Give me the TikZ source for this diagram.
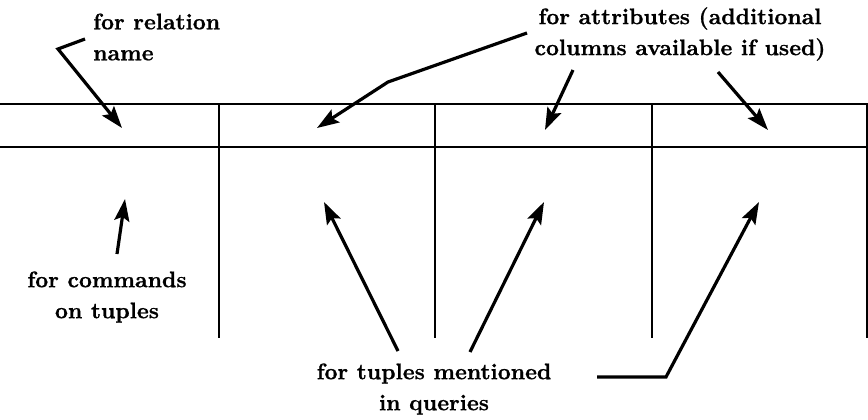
\documentclass[tikz,border=0pt]{standalone}
\usepackage{fontspec}
\newfontfamily\lbf{lmroman10-bold.otf}[FakeBold=0.8]
\usetikzlibrary{arrows.meta}
\begin{document}
\begin{tikzpicture}[x=1pt,y=-1pt,
  tbl/.style={line width=2.2pt},
  arr/.style={line width=3.2pt,-{Stealth[length=22pt,width=15pt,inset=4pt]}},
  lbl/.style={font=\fontsize{22.5}{31}\selectfont\lbf, inner sep=0pt, align=center}]
\useasboundingbox (0,0) rectangle (868,420);
% table
\coordinate (h1l) at (0,104);   \coordinate (h1r) at (868,104);
\coordinate (h2l) at (0,147);   \coordinate (h2r) at (868,147);
\coordinate (v1t) at (219,104); \coordinate (v1b) at (219,338);
\coordinate (v2t) at (435,104); \coordinate (v2b) at (435,338);
\coordinate (v3t) at (652,104); \coordinate (v3b) at (652,338);
\coordinate (v4t) at (867,104); \coordinate (v4b) at (867,338);
\draw[tbl] (h1l) -- (h1r);
\draw[tbl] (h2l) -- (h2r);
\draw[tbl] (v1t) -- (v1b);
\draw[tbl] (v2t) -- (v2b);
\draw[tbl] (v3t) -- (v3b);
\draw[tbl] (v4t) -- (v4b);
% labels
\node[lbl, align=left, anchor=west] (rel) at (93,37) {for relation\\name};
\node[lbl] (att) at (680,34) {for attributes (additional\\columns available if used)};
\node[lbl] (cmd) at (107,297) {for commands\\on tuples};
\node[lbl] (tup) at (434,389) {for tuples mentioned\\in queries};
% arrow points
\coordinate (a1s) at (85,39);  \coordinate (a1b) at (58,49);  \coordinate (a1t) at (122,128);
\coordinate (a2s) at (527,33); \coordinate (a2b) at (388,82); \coordinate (a2t) at (317,128);
\coordinate (a3s) at (573,70); \coordinate (a3t) at (545,130);
\coordinate (a4s) at (718,72); \coordinate (a4t) at (768,130);
\coordinate (a5s) at (117,254); \coordinate (a5t) at (125,199);
\coordinate (a6s) at (398,351); \coordinate (a6t) at (324,202);
\coordinate (a7s) at (470,352); \coordinate (a7t) at (544,202);
\coordinate (a8s) at (597,377); \coordinate (a8b) at (666,377); \coordinate (a8t) at (759,202);
\draw[arr] (a1s) -- (a1b) -- (a1t);
\draw[arr] (a2s) -- (a2b) -- (a2t);
\draw[arr] (a3s) -- (a3t);
\draw[arr] (a4s) -- (a4t);
\draw[arr] (a5s) -- (a5t);
\draw[arr] (a6s) -- (a6t);
\draw[arr] (a7s) -- (a7t);
\draw[arr] (a8s) -- (a8b) -- (a8t);
\end{tikzpicture}
\end{document}
